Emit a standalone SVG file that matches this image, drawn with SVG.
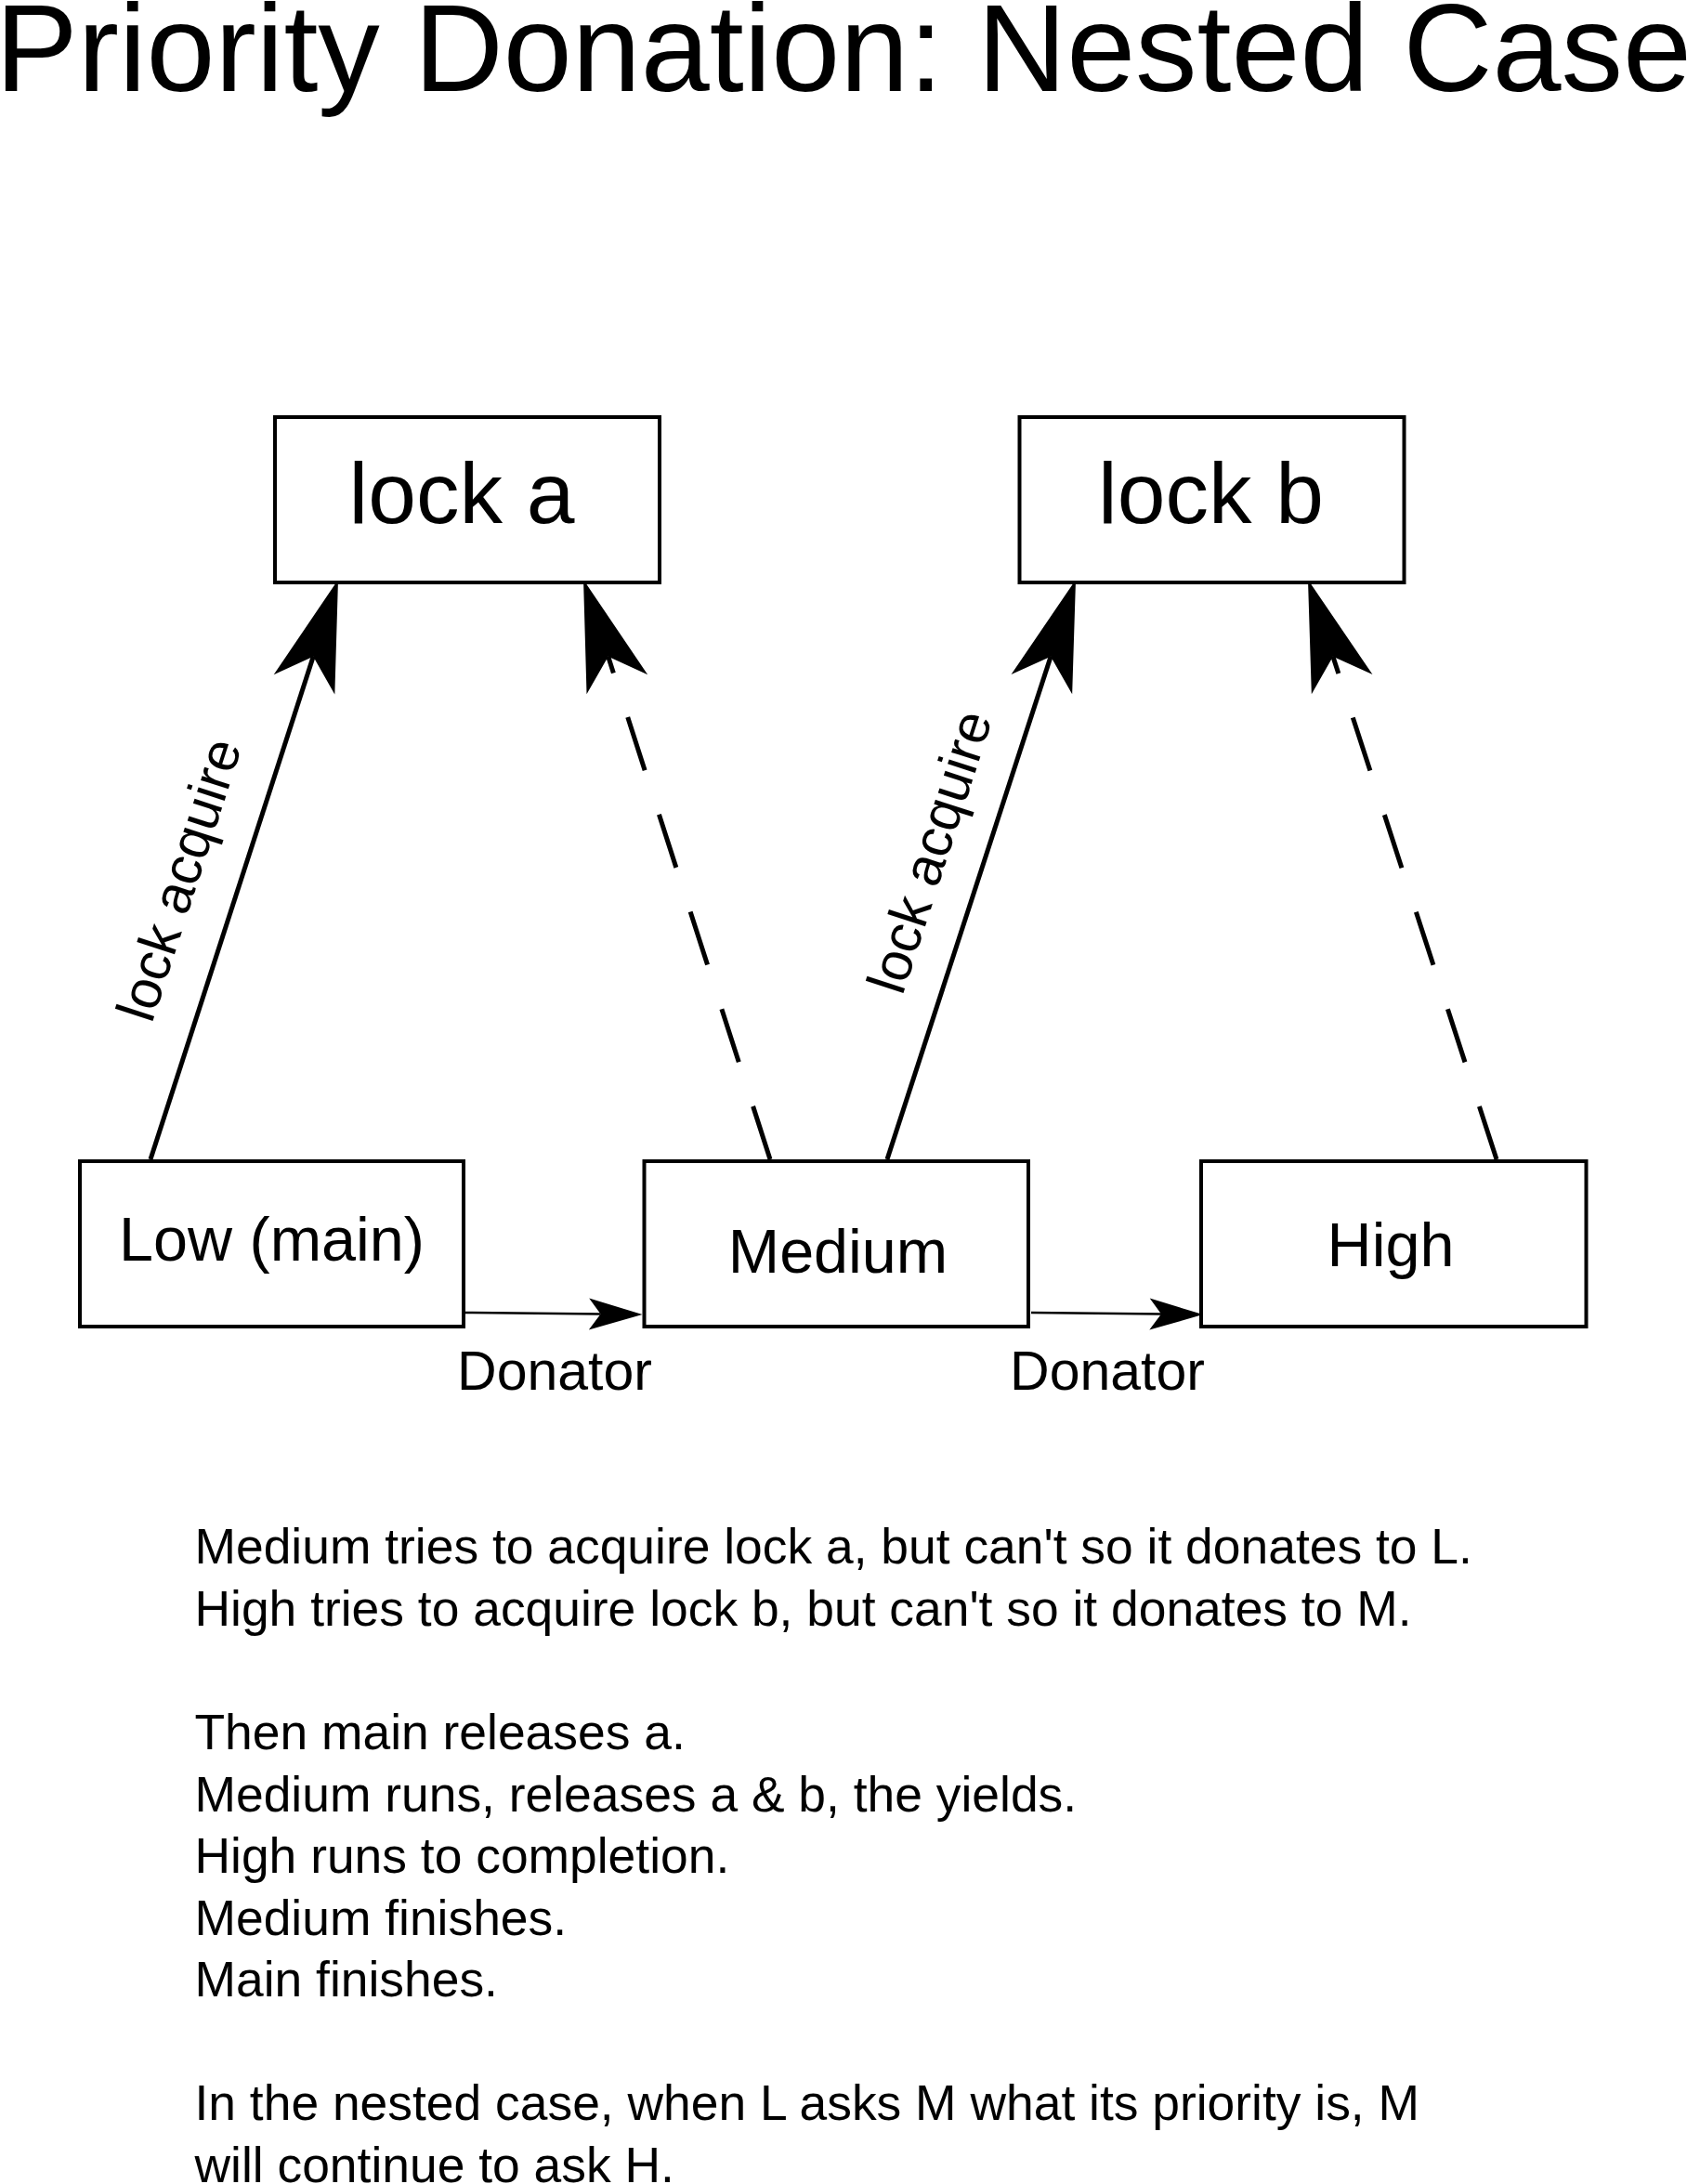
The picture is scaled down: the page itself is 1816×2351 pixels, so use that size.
<svg xmlns="http://www.w3.org/2000/svg" width="1816" height="2351" viewBox="0 0 1816 2351">
  <style>
    text { font-family: "Liberation Sans", Arial, Helvetica, sans-serif; fill: #000; }
    .box { fill: #fff; stroke: #000; stroke-width: 4; }
    .title { font-size: 133px; text-anchor: middle; }
    .lock { font-size: 93px; text-anchor: middle; }
    .thr { font-size: 66.5px; text-anchor: middle; }
    .lbl { font-size: 59px; text-anchor: middle; }
    .body { font-size: 53.4px; }
    .edge { fill: none; stroke: #000; stroke-width: 5; }
    .dash { stroke-dasharray: 60 50; }
    .thin { fill: none; stroke: #000; stroke-width: 2.5; }
  </style>
  <defs>
    <marker id="bigArrow" markerUnits="userSpaceOnUse" markerWidth="120" markerHeight="70" refX="31.5" refY="34.5" orient="auto" overflow="visible">
      <path d="M0,0 L118.5,34.5 L0,69 L31.5,34.5 Z" fill="#000"/>
    </marker>
    <marker id="smallArrow" markerUnits="userSpaceOnUse" markerWidth="60" markerHeight="36" refX="12.5" refY="17" orient="auto" overflow="visible">
      <path d="M0,0 L57.5,17 L0,34 L12.5,17 Z" fill="#000"/>
    </marker>
  </defs>
  <rect width="1816" height="2351" fill="#fff"/>

  <text class="title" x="908" y="98">Priority Donation: Nested Case</text>

  <g id="connectors">
    <path class="edge" d="M162,1248 L337.2,706.8" marker-end="url(#bigArrow)"/>
    <path class="edge dash" d="M829,1248 L654.7,706.8" marker-end="url(#bigArrow)"/>
    <path class="edge" d="M955,1248 L1131.1,706.7" marker-end="url(#bigArrow)"/>
    <path class="edge dash" d="M1611,1248 L1434.9,706.7" marker-end="url(#bigArrow)"/>
    <path class="thin" d="M501,1413 L646.5,1414.6" marker-end="url(#smallArrow)"/>
    <path class="thin" d="M1110,1413 L1250,1414.6" marker-end="url(#smallArrow)"/>
    <text class="lbl" transform="translate(212,953) rotate(-72)" x="0" y="0">lock acquire</text>
    <text class="lbl" transform="translate(1020,923) rotate(-72)" x="0" y="0">lock acquire</text>
    <text class="lbl" x="597" y="1496">Donator</text>
    <text class="lbl" x="1192" y="1496">Donator</text>
  </g>

  <g id="lock-a">
    <rect class="box" x="296" y="449" width="414" height="178"/>
    <text class="lock" x="497" y="563">lock a</text>
  </g>
  <g id="lock-b">
    <rect class="box" x="1097.5" y="449" width="414" height="178"/>
    <text class="lock" x="1303.5" y="563">lock b</text>
  </g>
  <g id="low">
    <rect class="box" x="86" y="1250" width="413" height="178"/>
    <text class="thr" x="292.5" y="1357">Low (main)</text>
  </g>
  <g id="medium">
    <rect class="box" x="693.5" y="1250" width="413.5" height="178"/>
    <text class="thr" x="902" y="1370">Medium</text>
  </g>
  <g id="high">
    <rect class="box" x="1293" y="1250" width="414.5" height="178"/>
    <text class="thr" x="1497" y="1363">High</text>
  </g>

  <g id="notes">
    <text class="body" x="209.5" y="1683">Medium tries to acquire lock a, but can't so it donates to L.</text>
    <text class="body" x="209.5" y="1749.6">High tries to acquire lock b, but can't so it donates to M.</text>
    <text class="body" x="209.5" y="1883">Then main releases a.</text>
    <text class="body" x="209.5" y="1949.6">Medium runs, releases a &amp; b, the yields.</text>
    <text class="body" x="209.5" y="2016">High runs to completion.</text>
    <text class="body" x="209.5" y="2082.6">Medium finishes.</text>
    <text class="body" x="209.5" y="2149">Main finishes.</text>
    <text class="body" x="209.5" y="2282.4">In the nested case, when L asks M what its priority is, M</text>
    <text class="body" x="209.5" y="2349">will continue to ask H.</text>
  </g>
</svg>
